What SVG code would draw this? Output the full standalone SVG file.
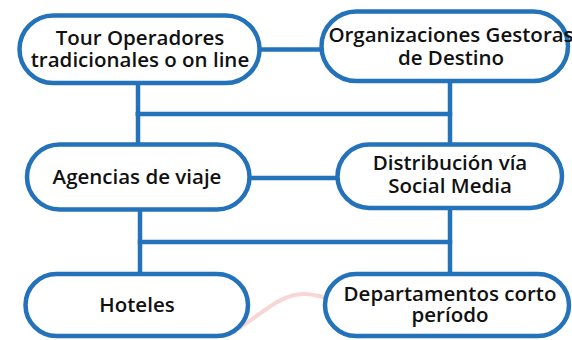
<svg xmlns="http://www.w3.org/2000/svg" width="572" height="340" viewBox="0 0 572 340">
<style>
.node rect{fill:#fff;stroke:#2372BA;stroke-width:4.5}
.conn line{stroke:#2372BA;stroke-width:4.5;stroke-linecap:butt}
text{font-family:"Open Sans","Noto Sans","DejaVu Sans",sans-serif;font-weight:600;font-size:20.5px;fill:#111;text-anchor:middle}
</style>
<rect width="572" height="340" fill="#fff"/>
<path d="M230,334 C260,316 280,293 305,294 C315,294 325,298 335,300" fill="none" stroke="#f9d6d6" stroke-width="4"/>
<g class="conn">
<line x1="259" y1="49.5" x2="322" y2="49.5"/>
<line x1="138" y1="82" x2="138" y2="116"/>
<line x1="135.8" y1="114" x2="452.2" y2="114"/>
<line x1="450" y1="80" x2="450" y2="146"/>
<line x1="138" y1="112" x2="138" y2="146"/>
<line x1="249" y1="178" x2="338" y2="178"/>
<line x1="140" y1="209" x2="140" y2="276"/>
<line x1="137.8" y1="242" x2="452.2" y2="242"/>
<line x1="450" y1="207" x2="450" y2="276"/>
</g>
<g id="n1" class="node"><rect x="19.5" y="15.5" width="240" height="67.5" rx="33.75"/><text x="140" y="45">Tour Operadores</text><text x="140" y="67">tradicionales o on line</text></g>
<g id="n2" class="node"><rect x="321.5" y="11.5" width="246.5" height="69.5" rx="34.75"/><text x="451" y="42">Organizaciones Gestoras</text><text x="451" y="65">de Destino</text></g>
<g id="n3" class="node"><rect x="27" y="144.5" width="222.5" height="65" rx="32.5"/><text x="137" y="184">Agencias de viaje</text></g>
<g id="n4" class="node"><rect x="337.5" y="144.5" width="224.5" height="63.5" rx="31.75"/><text x="450" y="170">Distribución vía</text><text x="450" y="193">Social Media</text></g>
<g id="n5" class="node"><rect x="25.5" y="274" width="222.5" height="62" rx="31"/><text x="137" y="312">Hoteles</text></g>
<g id="n6" class="node"><rect x="325" y="274" width="244" height="62" rx="31"/><text x="450" y="301">Departamentos corto</text><text x="450" y="322">período</text></g>
</svg>
